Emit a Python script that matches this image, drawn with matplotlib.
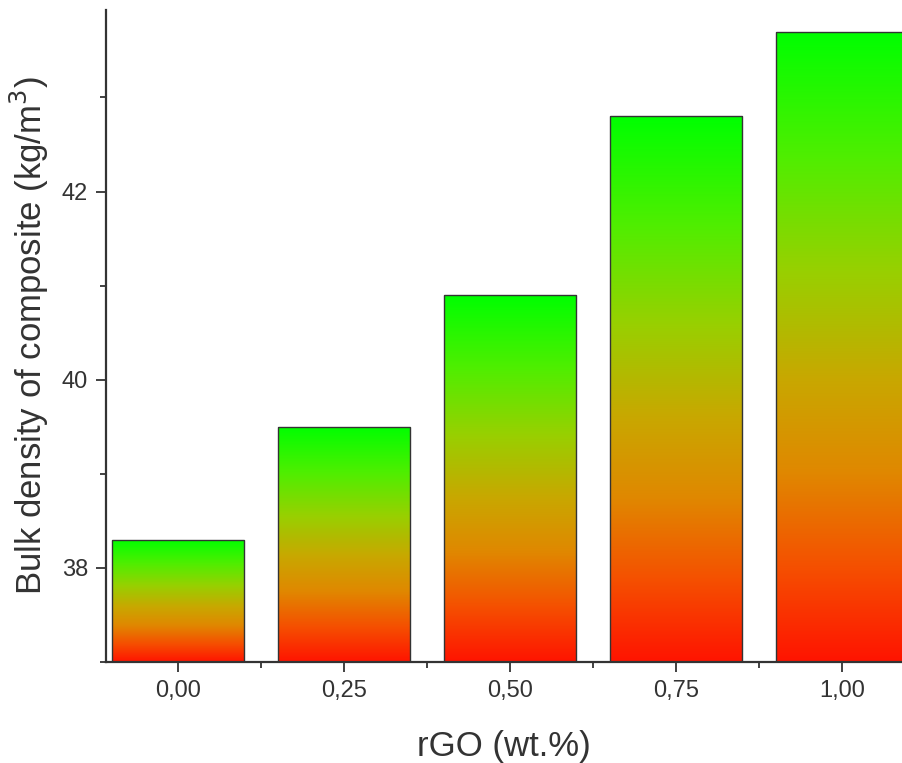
import numpy as np
import matplotlib.pyplot as plt
from matplotlib.colors import LinearSegmentedColormap
from matplotlib.ticker import MultipleLocator

plt.rcParams['font.family'] = ['Liberation Sans', 'DejaVu Sans']

rgo = [0.00, 0.25, 0.50, 0.75, 1.00]
density = [38.3, 39.5, 40.9, 42.8, 43.7]
xlabels = ['0,00', '0,25', '0,50', '0,75', '1,00']

fig = plt.figure(figsize=(9.02, 7.63), dpi=100)
ax = fig.add_axes([0.1175, 0.1324, 0.8825, 0.8545])

ymin, ymax = 37.0, 43.93
width = 0.2
# bottom red -> top green, roughly as in the original fill
cmap = LinearSegmentedColormap.from_list('rg', [
    (0.0, '#ff1400'), (0.15, '#f55000'), (0.3, '#e08800'), (0.45, '#c8a800'),
    (0.52, '#b4b800'), (0.62, '#98d000'), (0.8, '#50ee00'), (1.0, '#00ff00')])
grad = np.linspace(0, 1, 256).reshape(-1, 1)

bars = ax.bar(rgo, np.array(density) - ymin, bottom=ymin, width=width,
              facecolor='none', edgecolor='#333333', linewidth=1.0, zorder=3)
for b in bars:
    x0, y0 = b.get_x(), b.get_y()
    w, h = b.get_width(), b.get_height()
    im = ax.imshow(grad, cmap=cmap, aspect='auto', origin='lower',
                   extent=[x0, x0 + w, y0, y0 + h], zorder=2)
    im.set_clip_path(b)

ax.set_xlim(-0.1084, 1.0904)
ax.set_ylim(ymin, ymax)

ax.set_xticks(rgo)
ax.set_xticklabels(xlabels)
ax.xaxis.set_minor_locator(MultipleLocator(0.125))
ax.set_yticks([38, 40, 42])
ax.yaxis.set_minor_locator(MultipleLocator(1))

ax.spines['top'].set_visible(False)
ax.spines['right'].set_visible(False)
for s in ['left', 'bottom']:
    ax.spines[s].set_linewidth(1.6)
    ax.spines[s].set_color('#333333')

ax.tick_params(which='major', length=7, width=1.3, color='#333333',
               labelsize=17, labelcolor='#333333', pad=6)
ax.tick_params(which='minor', length=4, width=1.3, color='#333333')

ax.set_xlabel('rGO (wt.%)', fontsize=25, color='#333333', labelpad=20)
ax.set_ylabel('Bulk density of composite (kg/m$^3$)', fontsize=25,
              color='#333333', labelpad=8)

fig.savefig('out.png', dpi=100)
